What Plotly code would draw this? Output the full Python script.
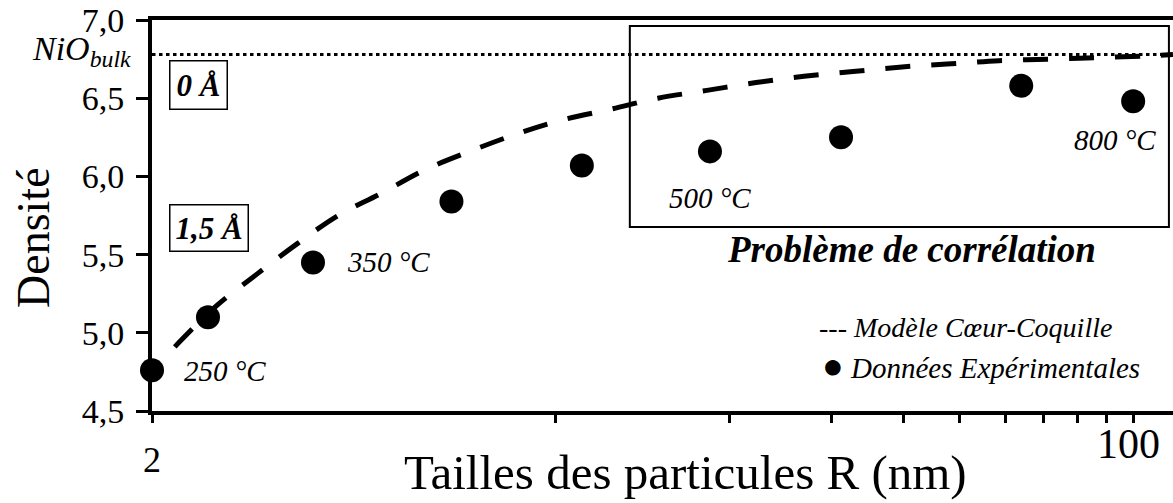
import math
import plotly.graph_objects as go

# Experimental points: particle radius (nm) and measured density
size_nm = [2.0, 2.50, 3.80, 6.6, 11.1, 18.5, 31.2, 64.0, 100.0]
density_exp = [4.76, 5.10, 5.45, 5.84, 6.07, 6.16, 6.25, 6.58, 6.48]

# Core-shell model curve
model_size_nm = [2.19, 2.27, 2.60, 3.05, 3.57, 4.20, 4.98, 5.92, 7.10, 8.54, 10.25,
                 12.47, 15.04, 18.28, 22.23, 26.92, 32.73, 39.79, 48.38, 58.58,
                 71.51, 86.92, 105.7, 117.2]
model_density = [4.91, 4.97, 5.18, 5.38, 5.57, 5.75, 5.89, 6.04, 6.16, 6.27, 6.36,
                 6.43, 6.50, 6.55, 6.60, 6.64, 6.67, 6.70, 6.72, 6.74,
                 6.75, 6.76, 6.77, 6.78]

nio_bulk = 6.78

# Annealing temperature labels: (point index, text, x shift, y shift, anchor)
temp_labels = [
    (0, "250 °C", 30, -1, "left"),
    (2, "350 °C", 32, 0, "left"),
    (5, "500 °C", 0, -47, "center"),
    (8, "800 °C", -18, -39, "center"),
]

x_ticks = [2, 10, 20, 30, 40, 50, 60, 70, 80, 90, 100]
y_ticks = [4.5, 5.0, 5.5, 6.0, 6.5, 7.0]

FONT = "Liberation Serif"

fig = go.Figure()

fig.add_trace(go.Scatter(
    x=model_size_nm, y=model_density, mode="lines",
    line=dict(color="black", width=5, dash="25px,21px", shape="spline"),
    showlegend=False, hoverinfo="skip",
))
fig.add_trace(go.Scatter(
    x=size_nm, y=density_exp, mode="markers",
    marker=dict(color="black", size=24),
    showlegend=False, cliponaxis=False,
))

# Bulk NiO reference level
fig.add_shape(type="line", xref="paper", x0=0, x1=1, yref="y", y0=nio_bulk, y1=nio_bulk,
              line=dict(color="black", width=3, dash="3.5px,3.5px"))

# Frame around the high-temperature points
fig.add_shape(type="rect", xref="paper", yref="paper",
              x0=0.468, x1=0.996, y0=0.4706, y1=0.9847,
              line=dict(color="black", width=2))

annotations = []
for idx, text, dx, dy, anchor in temp_labels:
    annotations.append(dict(
        x=math.log10(size_nm[idx]), y=density_exp[idx], xref="x", yref="y",
        text=text, showarrow=False, xanchor=anchor, yanchor="middle",
        xshift=dx, yshift=dy,
        font=dict(family=FONT, size=29, color="black", style="italic"),
    ))

annotations += [
    dict(x=-0.019, y=nio_bulk, xref="paper", yref="y", text="NiO<sub>bulk</sub>",
         showarrow=False, xanchor="right", yanchor="middle", yshift=3,
         font=dict(family=FONT, size=34, color="black", style="italic")),
    dict(x=0.0451, y=0.8325, xref="paper", yref="paper", text="<b>0 Å</b>",
         showarrow=False, xanchor="center", yanchor="middle",
         bordercolor="black", borderwidth=1.5, borderpad=6,
         font=dict(family=FONT, size=31, color="black", style="italic")),
    dict(x=0.0563, y=0.4693, xref="paper", yref="paper", text="<b>1,5 Å</b>",
         showarrow=False, xanchor="center", yanchor="middle",
         bordercolor="black", borderwidth=1.5, borderpad=5,
         font=dict(family=FONT, size=31, color="black", style="italic")),
    dict(x=0.744, y=0.4118, xref="paper", yref="paper", text="<b>Problème de corrélation</b>",
         showarrow=False, xanchor="center", yanchor="middle",
         font=dict(family=FONT, size=37, color="black", style="italic")),
    dict(x=0.6513, y=0.2148, xref="paper", yref="paper", text="--- Modèle Cœur-Coquille",
         showarrow=False, xanchor="left", yanchor="middle",
         font=dict(family=FONT, size=28, color="black", style="italic")),
    dict(x=0.6543, y=0.1151, xref="paper", yref="paper",
         text="<span style='font-size:36px'>●</span> Données Expérimentales",
         showarrow=False, xanchor="left", yanchor="middle",
         font=dict(family=FONT, size=29, color="black", style="italic")),
    # x tick labels
    dict(x=math.log10(2), y=-0.125, xref="x", yref="paper", text="2",
         showarrow=False, xanchor="center", yanchor="middle",
         font=dict(family=FONT, size=36, color="black")),
    dict(x=math.log10(100), y=-0.084, xref="x", yref="paper", text="100",
         showarrow=False, xanchor="center", yanchor="middle", xshift=-5,
         font=dict(family=FONT, size=42, color="black")),
    # axis titles
    dict(x=0.523, y=-0.158, xref="paper", yref="paper", text="Tailles des particules R (nm)",
         showarrow=False, xanchor="center", yanchor="middle",
         font=dict(family=FONT, size=49, color="black")),
    dict(x=-0.116, y=0.444, xref="paper", yref="paper", text="Densité", textangle=-90,
         showarrow=False, xanchor="center", yanchor="middle",
         font=dict(family=FONT, size=46, color="black")),
]

# Log range starts just left of R = 2 nm so the first point sits on the axis
x_lo = math.log10(1.9999)
x_hi = math.log10(2) + 1021 / 577.5

fig.update_layout(
    width=1173, height=503,
    margin=dict(l=152, r=0, t=20, b=92),
    paper_bgcolor="white", plot_bgcolor="white",
    separators=", ",
    font=dict(family=FONT, color="black"),
    showlegend=False,
    annotations=annotations,
    xaxis=dict(
        type="log", range=[x_lo, x_hi],
        tickvals=x_ticks, showticklabels=False,
        ticks="outside", ticklen=8, tickwidth=3, tickcolor="black",
        showline=True, linecolor="black", linewidth=4, mirror=True,
        showgrid=False, zeroline=False,
    ),
    yaxis=dict(
        range=[4.5, 7.0], tickvals=y_ticks, tickformat=".1f",
        ticks="outside", ticklen=12, tickwidth=3, tickcolor="black",
        showline=True, linecolor="black", linewidth=4,
        showgrid=False, zeroline=False,
        tickfont=dict(family=FONT, size=34, color="black"),
        ticklabelstandoff=5,
    ),
)

fig.write_html("out.html")
